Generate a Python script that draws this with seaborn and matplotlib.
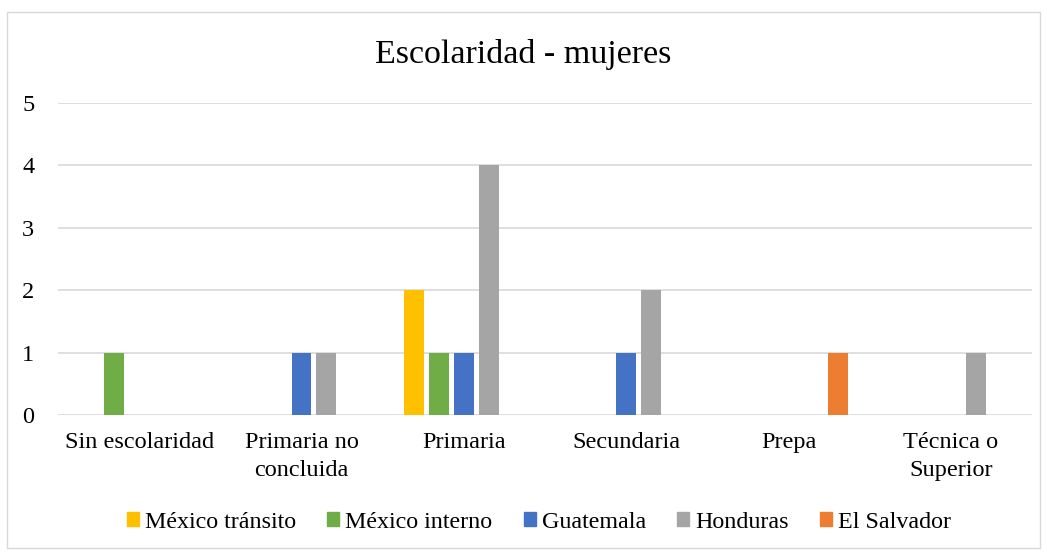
import numpy as np
import pandas as pd
import matplotlib.pyplot as plt
import seaborn as sns
from matplotlib.patches import Rectangle

# Data
categories = ['Sin escolaridad', 'Primaria no\nconcluida', 'Primaria', 'Secundaria', 'Prepa', 'Técnica o\nSuperior']
series = ['México tránsito', 'México interno', 'Guatemala', 'Honduras', 'El Salvador']
mexico_transito = [0, 0, 2, 0, 0, 0]
mexico_interno = [1, 0, 1, 0, 0, 0]
guatemala = [0, 1, 1, 1, 0, 0]
honduras = [0, 1, 4, 2, 0, 1]
el_salvador = [0, 0, 0, 0, 1, 0]
colors = ['#FFC000', '#70AD47', '#4472C4', '#A5A5A5', '#ED7D31']

values = [mexico_transito, mexico_interno, guatemala, honduras, el_salvador]
df = pd.DataFrame([(c, s, v) for s, vals in zip(series, values) for c, v in zip(categories, vals)],
                  columns=['cat', 'serie', 'valor'])

sns.set_style('white')
plt.rcParams['font.family'] = ['Liberation Serif', 'DejaVu Serif']
plt.rcParams['text.color'] = 'black'

fig = plt.figure(figsize=(10.47, 5.52), dpi=100)
ax = fig.add_axes([58 / 1047, (552 - 415) / 552, 974 / 1047, 312 / 552])

sns.barplot(data=df, x='cat', y='valor', hue='serie', hue_order=series, order=categories,
            palette=colors, width=0.77, gap=0.2, dodge=True, legend=False, ax=ax,
            edgecolor='none', saturation=1)

ax.set_ylim(0, 5)
ax.set_xlim(-0.5, len(categories) - 0.5)
ax.set_yticks(range(0, 6))
ax.yaxis.grid(True, color='#D9D9D9', linewidth=1.2)
ax.set_axisbelow(True)
for sp in ax.spines.values():
    sp.set_visible(False)
ax.tick_params(axis='both', length=0, labelsize=17.5, colors='black')
ax.tick_params(axis='x', pad=12)
ax.tick_params(axis='y', pad=17)
for lbl in ax.get_xticklabels():
    lbl.set_linespacing(1.45)
ax.set_xlabel('')
ax.set_ylabel('')

fig.text(0.5, (552 - 55) / 552, 'Escolaridad - mujeres', ha='center', va='center', fontsize=24.5, color='black')

handles = [Rectangle((0, 0), 1, 1, color=c) for c in colors]
fig.legend(handles, series, loc='center', bbox_to_anchor=(539 / 1047, (552 - 522) / 552), ncol=5,
           frameon=False, fontsize=17.3, handlelength=0.5, handleheight=0.5,
           handletextpad=0.25, columnspacing=1.3)

fig.patches.append(Rectangle((7 / 1047, 4 / 552), 1033 / 1047, 536 / 552, transform=fig.transFigure,
                             fill=False, edgecolor='#D9D9D9', linewidth=1))

fig.savefig('out.png', dpi=100)
